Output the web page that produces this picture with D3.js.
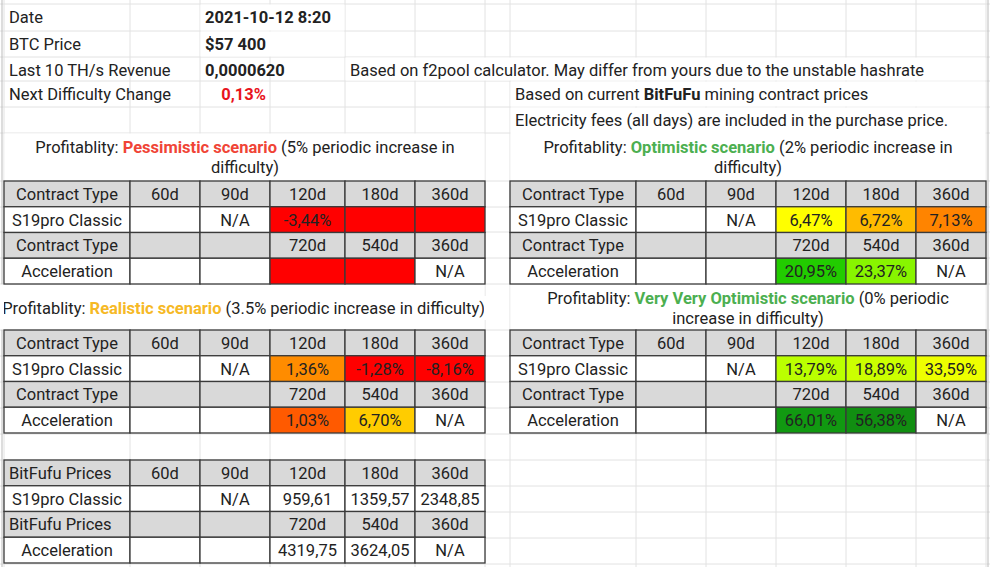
<!DOCTYPE html>
<html><head><meta charset="utf-8">
<script src="https://cdn.jsdelivr.net/npm/d3@7"></script>
<style>body{margin:0;background:#fff}svg{display:block;font-family:Roboto,Arial,sans-serif}</style>
</head><body><svg id="c" width="990" height="567"></svg>
<script>
// ---- data ----
const infoLabels = ["Date","BTC Price","Last 10 TH/s Revenue","Next Difficulty Change"];
const infoValues = ["2021-10-12 8:20","$57 400","0,0000620","0,13%"];
const notes = ["Based on f2pool calculator. May differ from yours due to the unstable hashrate","Electricity fees (all days) are included in the purchase price."];
const periodsA = ["60d","90d","120d","180d","360d"];
const periodsB = ["","","720d","540d","360d"];
const pessimistic = {classic:["","N/A","-3,44%","",""], accel:["","","","","N/A"]};
const realistic = {classic:["","N/A","1,36%","-1,28%","-8,16%"], accel:["","","1,03%","6,70%","N/A"]};
const optimistic = {classic:["","N/A","6,47%","6,72%","7,13%"], accel:["","","20,95%","23,37%","N/A"]};
const veryOptimistic = {classic:["","N/A","13,79%","18,89%","33,59%"], accel:["","","66,01%","56,38%","N/A"]};
const prices = {classic:["","N/A","959,61","1359,57","2348,85"], accel:["","","4319,75","3624,05","N/A"]};
// fill colours of conditional-format cells
const pessColors = {classic:[null,null,"#ff0000","#ff0000","#ff0000"], accel:[null,null,"#ff0000","#ff0000",null]};
const realColors = {classic:[null,null,"#ff8c00","#ff0000","#ff0000"], accel:[null,null,"#ff5a00","#ffcc00",null]};
const optColors = {classic:[null,null,"#ffff00","#ffbb00","#ff8400"], accel:[null,null,"#22cc00","#88f500",null]};
const vvoColors = {classic:[null,null,"#bbff00","#ccff00","#eeff00"], accel:[null,null,"#119911","#118e11",null]};

const FS = 16.5;
const svg = d3.select("#c");
const leftX = [4,130,200,270,345,415,485];
const rightX = [510,636,706,776,846,916,986];
const rowY = [4,31,57,81,107,133,181,207,232,258,284,330,356,382,408,434,460,486,512,538,564];

const g = svg.append("g").attr("stroke","#e2e2e2").attr("stroke-width",1);
[...leftX, ...rightX].forEach(x=>g.append("line").attr("x1",x).attr("x2",x).attr("y1",0).attr("y2",567));
rowY.forEach(y=>g.append("line").attr("x1",0).attr("x2",990).attr("y1",y).attr("y2",y));
svg.append("line").attr("x1",2).attr("x2",2).attr("y1",0).attr("y2",567).attr("stroke","#bbb");
svg.append("line").attr("x1",988).attr("x2",988).attr("y1",0).attr("y2",567).attr("stroke","#bbb");

function whiteRect(x0,x1,y0,y1){svg.append("rect").attr("x",x0+0.5).attr("y",y0+0.5).attr("width",x1-x0-1).attr("height",y1-y0-1).attr("fill","#fff");}
whiteRect(4,485,133,181); whiteRect(510,986,107,181);
whiteRect(0,485,284,330); whiteRect(510,986,284,330);
whiteRect(200,345,4,31);whiteRect(200,345,31,57);
whiteRect(345,986,57,81); whiteRect(510,986,81,107);

const T = (x,y,s,opt={}) => svg.append("text").attr("x",x).attr("y",y).attr("font-size",FS)
  .attr("fill",opt.fill||"#222").attr("font-weight",opt.bold?"bold":null).attr("text-anchor",opt.anchor||"start").text(s);

infoLabels.forEach((l,i)=>T(9,rowY[i]+19,l));
infoValues.forEach((v,i)=>{ if(i<3) T(205,rowY[i]+19,v,{bold:true}); else T(266,rowY[i]+19,v,{bold:true,fill:"#e8141c",anchor:"end"}); });
T(350,rowY[2]+19,notes[0]);
const n2 = T(515,rowY[3]+19,"Based on current ");
n2.append("tspan").attr("font-weight","bold").text("BitFuFu");
n2.append("tspan").text(" mining contract prices");
T(515,rowY[4]+19,notes[1]);

function title(cx,y,lines,anchor){
  lines.forEach((parts,i)=>{
    const t=svg.append("text").attr("x",cx).attr("y",y+i*20).attr("font-size",FS).attr("text-anchor",anchor||"middle").attr("fill","#222");
    parts.forEach(p=>t.append("tspan").attr("fill",p.c||"#222").attr("font-weight",p.b?"bold":null).text(p.t));
  });
}
title(245,153,[[{t:"Profitablity: "},{t:"Pessimistic scenario",c:"#f04436",b:1},{t:" (5% periodic increase in"}],[{t:"difficulty)"}]]);
title(748,153,[[{t:"Profitablity: "},{t:"Optimistic scenario",c:"#4caf50",b:1},{t:" (2% periodic increase in"}],[{t:"difficulty)"}]]);
title(485,314,[[{t:"Profitablity: "},{t:"Realistic scenario",c:"#f6b926",b:1},{t:" (3.5% periodic increase in difficulty)"}]],"end");
svg.append("rect").attr("x",0).attr("y",296).attr("width",4).attr("height",24).attr("fill","#fff");
svg.append("rect").attr("x",484).attr("y",296).attr("width",8).attr("height",24).attr("fill","#fff");
title(748,304,[[{t:"Profitablity: "},{t:"Very Very Optimistic scenario",c:"#4caf50",b:1},{t:" (0% periodic"}],[{t:"increase in difficulty)"}]]);

function table(xs,y0,hdr,data,colors){
  const rows=[
    {fill:"#d9d9d9",cells:[hdr,...periodsA]},
    {fill:"#fff",cells:["S19pro Classic",...data.classic],colors:[null,...colors.classic]},
    {fill:"#d9d9d9",cells:[hdr,...periodsB]},
    {fill:"#fff",cells:["Acceleration",...data.accel],colors:[null,...colors.accel]}];
  const y=d3.scaleBand().domain(d3.range(4)).range([y0,y0+4*25.75]);
  const tg=svg.append("g");
  rows.forEach((r,i)=>{
    r.cells.forEach((c,j)=>{
      const fill=(r.colors&&r.colors[j])||r.fill;
      tg.append("rect").attr("x",xs[j]).attr("y",y(i)).attr("width",xs[j+1]-xs[j]).attr("height",y.bandwidth())
        .attr("fill",fill).attr("stroke","#3a3a3a").attr("stroke-width",1.3);
      const left = (j===0 && hdr==="BitFufu Prices" && i%2===0);
      tg.append("text").attr("x",left?xs[0]+5:(xs[j]+xs[j+1])/2).attr("y",y(i)+y.bandwidth()/2+6)
        .attr("text-anchor",left?"start":"middle").attr("font-size",FS).attr("fill","#222").text(c);
    });
  });
}
const none={classic:[null,null,null,null,null],accel:[null,null,null,null,null]};
table(leftX,181,"Contract Type",pessimistic,pessColors);
table(rightX,181,"Contract Type",optimistic,optColors);
table(leftX,330,"Contract Type",realistic,realColors);
table(rightX,330,"Contract Type",veryOptimistic,vvoColors);
table(leftX,460,"BitFufu Prices",prices,none);
</script></body></html>
